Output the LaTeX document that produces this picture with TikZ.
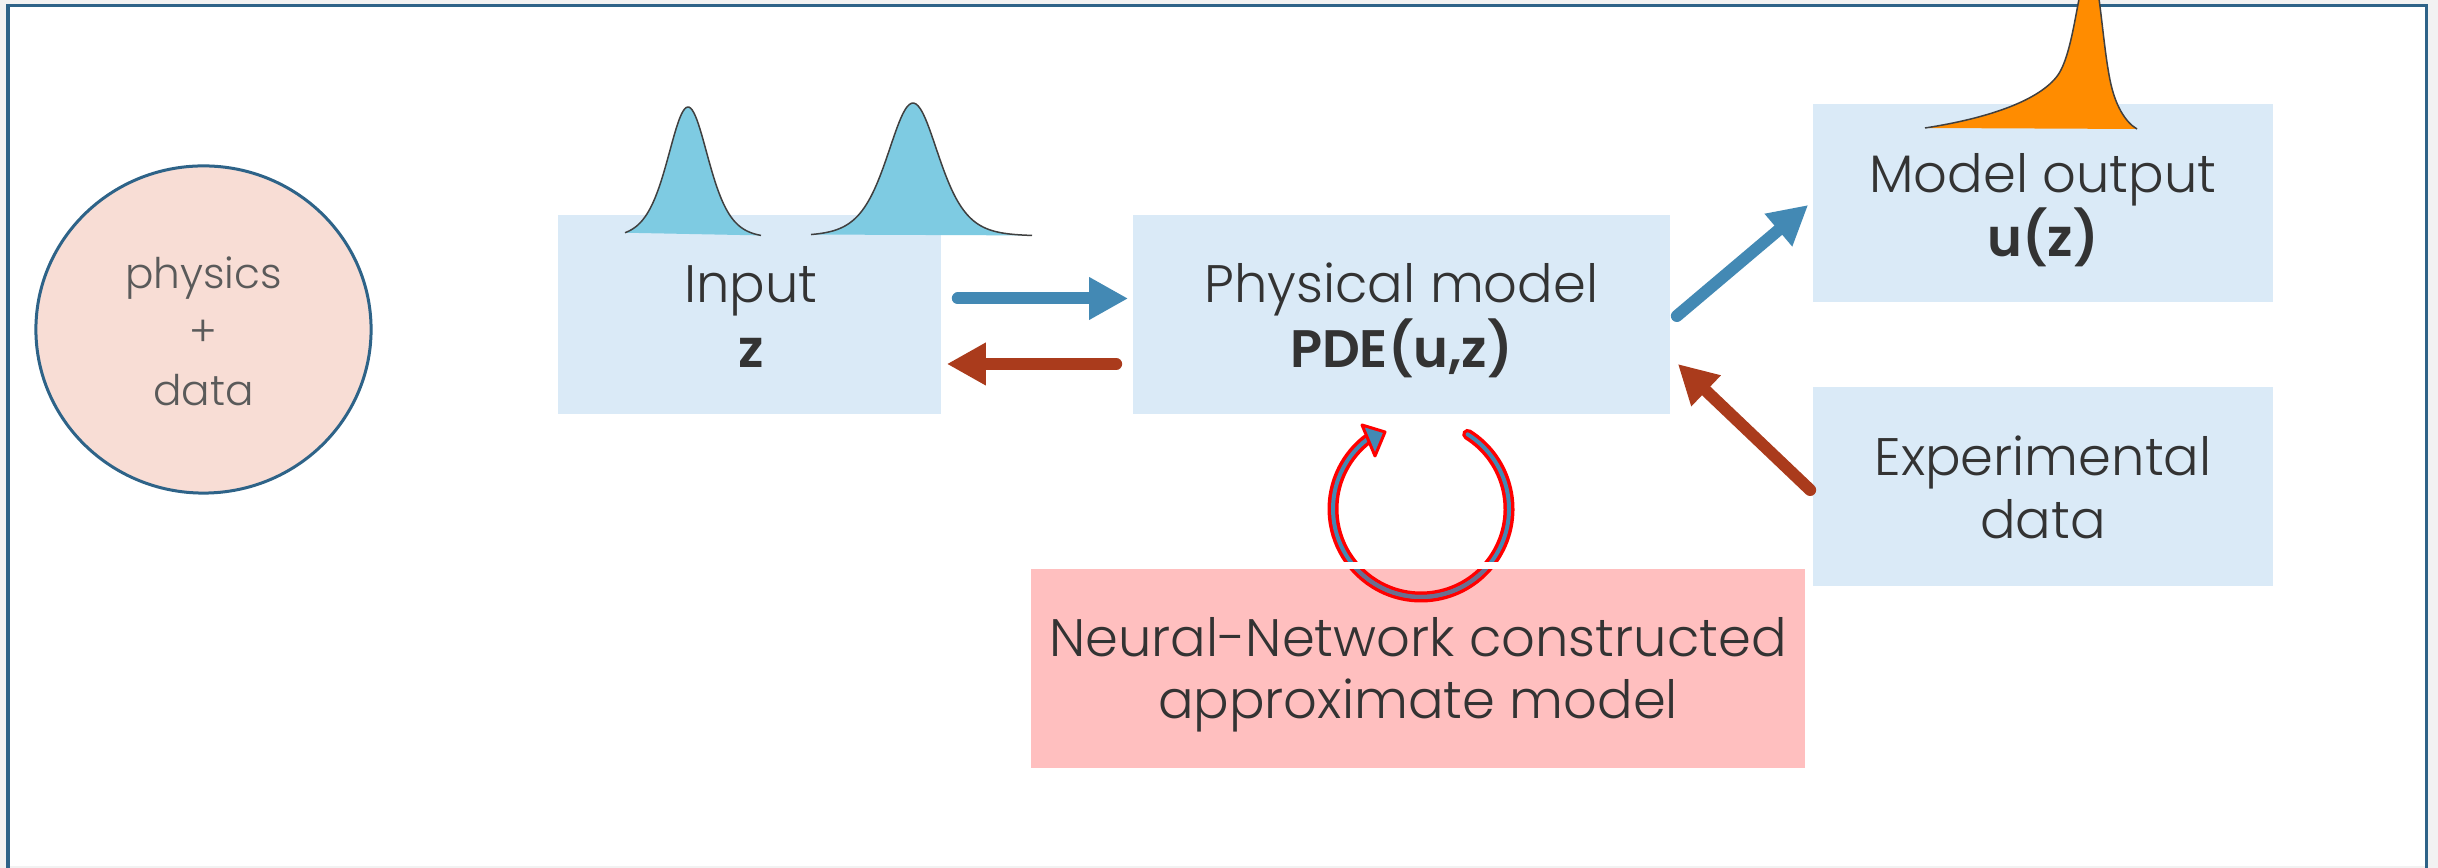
\documentclass[tikz,border=0pt]{standalone}
\usepackage{fontspec}
\setmainfont{Poppins}[UprightFont=* Light, BoldFont=* SemiBold]
\usetikzlibrary{arrows.meta,calc,shapes.geometric}
\definecolor{frameblue}{HTML}{2E6388}
\definecolor{boxblue}{HTML}{DAEAF7}
\definecolor{nnpink}{HTML}{FFBFBF}
\definecolor{elfill}{HTML}{F8DDD5}
\definecolor{arrblue}{HTML}{4389B4}
\definecolor{arrred}{HTML}{AA3B1C}
\definecolor{bellblue}{HTML}{7ECBE2}
\definecolor{orng}{HTML}{FF8C00}
\definecolor{txt}{HTML}{333333}
\definecolor{txtgray}{HTML}{5A5A5A}
\definecolor{slate}{HTML}{6B6F90}
\definecolor{bggray}{HTML}{F2F2F2}
\definecolor{pure red}{HTML}{FF0000}
\tikzset{
  lightbox/.style={rectangle, fill=boxblue, draw=none, inner sep=0pt},
  lbl/.style={anchor=base, text=txt, inner sep=0pt, font=\fontsize{15}{18}\selectfont},
  lblb/.style={anchor=base, text=txt, inner sep=0pt, font=\fontsize{15}{18}\selectfont\bfseries},
  lblg/.style={anchor=base, text=txtgray, inner sep=0pt, font=\fontsize{12}{14}\selectfont},
  fatarrow/.style={line width=0.12cm, line cap=round, -{Triangle[length=0.39cm,width=0.40cm]}},
  bellline/.style={draw=black!75, line width=0.015cm},
}
\begin{document}
\begin{tikzpicture}[x=0.01cm,y=-0.01cm]
\useasboundingbox (0,0) rectangle (2438,868);
% background and frame
\fill[bggray] (0,0) rectangle (2438,868);
\fill[white] (8,5) rectangle (2427,866);
\draw[frameblue, line width=0.03cm] (8,868) -- (8,5.5) -- (2426.5,5.5) -- (2426.5,868);

% ellipse
\node[ellipse, fill=elfill, draw=frameblue, line width=0.03cm, minimum width=3.35cm, minimum height=3.27cm, inner sep=0pt] (pd) at (203.5,329.5) {};
\node[lblg] (pdA) at (203.5,289) {physics};
\node[lblg] (pdB) at (203.5,347) {+};
\node[lblg] (pdC) at (203.5,406) {data};

% boxes
\node[lightbox, minimum width=3.83cm, minimum height=1.99cm] (in) at (749.5,314.5) {};
\node[lightbox, minimum width=5.37cm, minimum height=1.99cm] (phys) at (1401.5,314.5) {};
\node[lightbox, minimum width=4.60cm, minimum height=1.98cm] (out) at (2043,203) {};
\node[lightbox, minimum width=4.60cm, minimum height=1.99cm] (exp) at (2043,486.5) {};
\node[rectangle, fill=nnpink, inner sep=0pt, minimum width=7.74cm, minimum height=1.99cm] (nn) at (1418,668.5) {};

% bell curves on input
\fill[bellblue] plot[domain=-63:73, samples=90, smooth] ({688+\x}, {238-131*4/(exp(\x/27.5)+exp(-\x/27.5))^2}) -- cycle;
\draw[bellline] plot[domain=-63:73, samples=90, smooth] ({688+\x}, {238-131*4/(exp(\x/27.5)+exp(-\x/27.5))^2});
\fill[bellblue] plot[domain=-102:119, samples=100, smooth] ({913+\x}, {236-133*4/(exp(\x/34.6)+exp(-\x/34.6))^2}) -- cycle;
\draw[bellline] plot[domain=-102:119, samples=100, smooth] ({913+\x}, {236-133*4/(exp(\x/34.6)+exp(-\x/34.6))^2});

% orange output distribution
\begin{scope}
\clip (0,0) rectangle (2438,868);
\fill[orng] (1925,128) .. controls (1990,118) and (2040,100) .. (2058,75) .. controls (2075,50) and (2078,-20) .. (2090,-40) .. controls (2100,-20) and (2102,40) .. (2110,80) .. controls (2115,105) and (2125,122) .. (2137,129) -- cycle;
\draw[bellline] (1925,128) .. controls (1990,118) and (2040,100) .. (2058,75) .. controls (2075,50) and (2078,-20) .. (2090,-40) .. controls (2100,-20) and (2102,40) .. (2110,80) .. controls (2115,105) and (2125,122) .. (2137,129);
\end{scope}

% texts
\node[lbl] (inA) at (751,303) {Input};
\node[lblb] (inB) at (751,368) {z};
\node[lbl] (physA) at (1401.5,303) {Physical model};
\node[lblb] (physB) at (1401.5,368) {PDE(u,z)};
\node[lbl] (outA) at (2043,193) {Model output};
\node[lblb] (outB) at (2043,257) {u(z)};
\node[lbl] (expA) at (2043,476) {Experimental};
\node[lbl] (expB) at (2043,539) {data};
\node[lbl] (nnA) at (1418,657) {Neural-Network constructed};
\node[lbl] (nnB) at (1418,719) {approximate model};

% connectors
\draw[fatarrow, arrblue] ($(in.east)+(16,-16)$) -- ($(phys.west)+(-4,-16)$);
\draw[fatarrow, arrred] ($(phys.west)+(-16,49.5)$) -- ($(in.east)+(5,49.5)$);
\draw[fatarrow, arrblue] ($(phys.east)+(6,1.5)$) -- ($(out.west)+(-4,2)$);
\draw[fatarrow, arrred] ($(exp.west)+(-2,3.5)$) -- ($(phys.east)+(7,49.5)$);

% circular arrow
\draw[pure red, line width=0.11cm, line cap=round] (1421,509) ++(-58:88) arc[start angle=-58, end angle=232, radius=88];
\draw[arrblue, line width=0.04cm, line cap=round] (1421,509) ++(-58:88) arc[start angle=-58, end angle=232, radius=88];
\begin{scope}
\clip (nn.north west) rectangle (nn.south east);
\draw[slate, line width=0.04cm] (1421,509) ++(-58:88) arc[start angle=-58, end angle=232, radius=88];
\end{scope}
\fill[white] (1330,562) rectangle (1515,569);
\filldraw[fill=arrblue, draw=pure red, line width=0.03cm, line join=round] (1385,432) -- (1362,425) -- (1375,456) -- cycle;
\end{tikzpicture}
\end{document}
